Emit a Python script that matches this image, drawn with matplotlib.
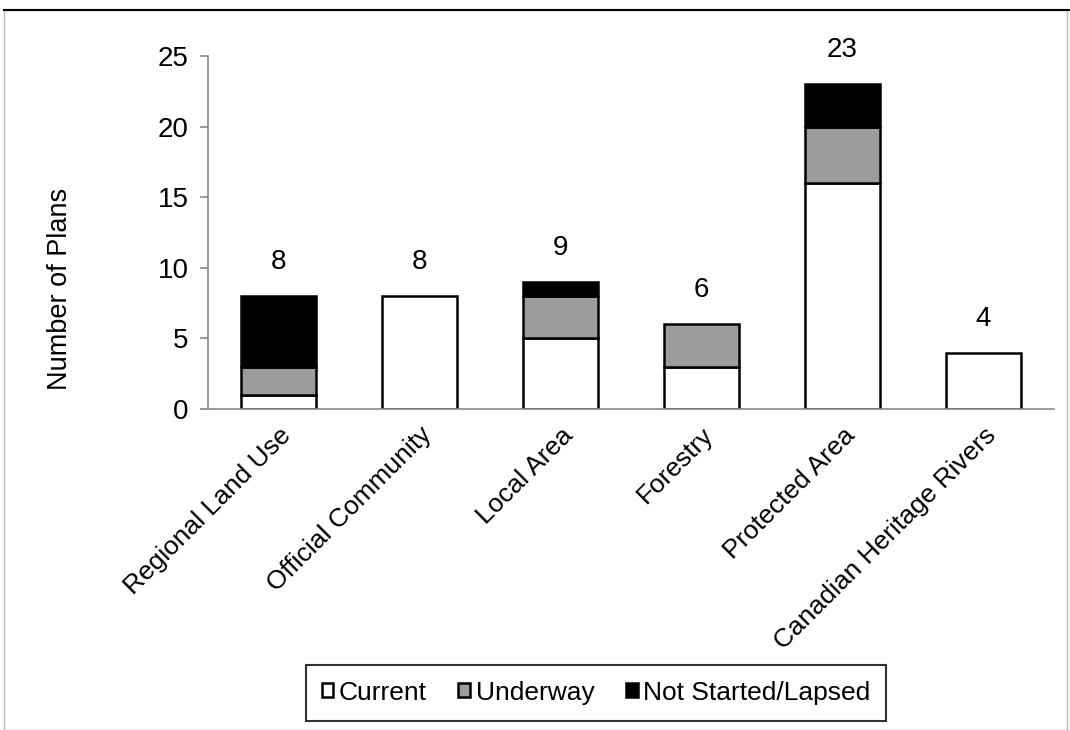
import matplotlib
matplotlib.use("Agg")
import matplotlib.pyplot as plt
from matplotlib.patches import Rectangle
import numpy as np

plt.rcParams['font.family'] = ['Liberation Sans', 'DejaVu Sans']

categories = ["Regional Land Use", "Official Community", "Local Area",
              "Forestry", "Protected Area", "Canadian Heritage Rivers"]
current = [1, 8, 5, 3, 16, 4]
underway = [2, 0, 3, 3, 4, 0]
not_started = [5, 0, 1, 0, 3, 0]
totals = [8, 8, 9, 6, 23, 4]
y_ticks = [0, 5, 10, 15, 20, 25]

fig = plt.figure(figsize=(10.7, 7.3), dpi=100)
ax = fig.add_axes([0.1944, 0.4397, 0.7906, 0.4836])

x = np.arange(len(categories))
w = 0.53
bar_kw = dict(width=w, edgecolor='black', linewidth=1.8)
b1 = ax.bar(x, current, color='white', label='Current', **bar_kw)
b2 = ax.bar(x, underway, bottom=current, color='#9c9c9c', label='Underway', **bar_kw)
bottom2 = np.array(current) + np.array(underway)
b3 = ax.bar(x, not_started, bottom=bottom2, color='black', label='Not Started/Lapsed', **bar_kw)

# hide zero-height segments so they don't draw an edge line
for bars, vals in ((b2, underway), (b3, not_started)):
    for r, v in zip(bars, vals):
        if v == 0:
            r.set_visible(False)

for xi, t in zip(x, totals):
    ax.text(xi, t + 2.4, str(t), ha='center', va='center', fontsize=20)

ax.set_xlim(-0.5, len(categories) - 0.5)
ax.set_ylim(0, 25)
ax.set_yticks(y_ticks)
ax.tick_params(axis='y', labelsize=20, color='#888888', length=6, width=1.2, pad=8)
ax.set_xticks(x)
ax.set_xticklabels(categories, rotation=45, ha='right', rotation_mode='anchor', fontsize=19)
ax.tick_params(axis='x', length=0, pad=10)
ax.set_ylabel("Number of Plans", fontsize=19.5)
ax.yaxis.set_label_coords(-0.16, 0.34)

for s in ('top', 'right'):
    ax.spines[s].set_visible(False)
for s in ('left', 'bottom'):
    ax.spines[s].set_color('#888888')
    ax.spines[s].set_linewidth(1.2)

leg = fig.legend(handles=[b1, b2, b3], loc='center', bbox_to_anchor=(0.557, 0.051),
                 ncol=3, fontsize=19, frameon=True, fancybox=False, edgecolor='black',
                 handlelength=0.45, handleheight=0.45, handletextpad=0.2, columnspacing=1.2,
                 borderpad=0.6)
leg.get_frame().set_linewidth(1.5)

# outer frame of the chart area
fig.patches.append(Rectangle((0.004, 0.0), 0.993, 0.986, transform=fig.transFigure,
                             fill=False, edgecolor='#bbbbbb', linewidth=1.0))
fig.add_artist(plt.Line2D([0.004, 1.0], [0.986, 0.986], transform=fig.transFigure,
                          color='black', linewidth=1.5))

fig.savefig("out.png", dpi=100)
